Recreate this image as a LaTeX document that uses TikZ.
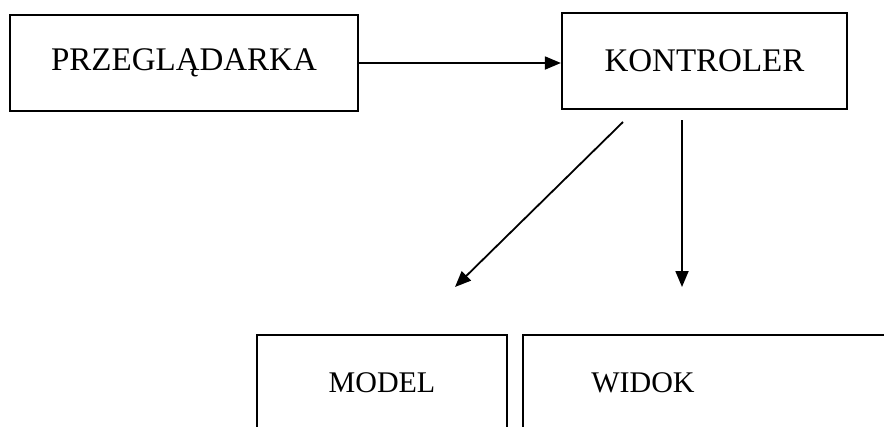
\documentclass[tikz,border=0pt]{standalone}
\usepackage{fontspec}
\setmainfont{Liberation Serif}
\usetikzlibrary{arrows.meta}

\tikzset{
  box/.style={draw, line width=2.2pt, minimum height=96pt, inner sep=0pt},
  bigtxt/.style={font=\fontsize{33}{40}\selectfont},
  smalltxt/.style={font=\fontsize{30}{36}\selectfont},
  arr/.style={line width=1.8pt, -{Triangle[length=16pt,width=13pt]}}
}

\begin{document}
\begin{tikzpicture}[x=1pt, y=-1pt]
\useasboundingbox (0,0) rectangle (884,426);
\clip (0,0) rectangle (884,426);

\node[box, bigtxt, minimum width=348pt] (przegl) at (184,63) {PRZEGLĄDARKA};
\node[box, bigtxt, minimum width=285pt] (kontr) at (704.5,61) {KONTROLER};
\node[box, smalltxt, minimum width=250pt] (model) at (382,383) {MODEL};
\node[box, minimum width=400pt, anchor=north west] (widok) at (522,334) {};
\node[smalltxt] (widoktxt) at (643,383) {WIDOK};

\coordinate (diagA) at (623,122);
\coordinate (diagB) at (455,287);
\coordinate (vertA) at (682,120);
\coordinate (vertB) at (682,287);

\draw[arr] (przegl.east) -- (przegl.east -| kontr.west);
\draw[arr] (diagA) -- (diagB);
\draw[arr] (vertA) -- (vertB);
\end{tikzpicture}
\end{document}
